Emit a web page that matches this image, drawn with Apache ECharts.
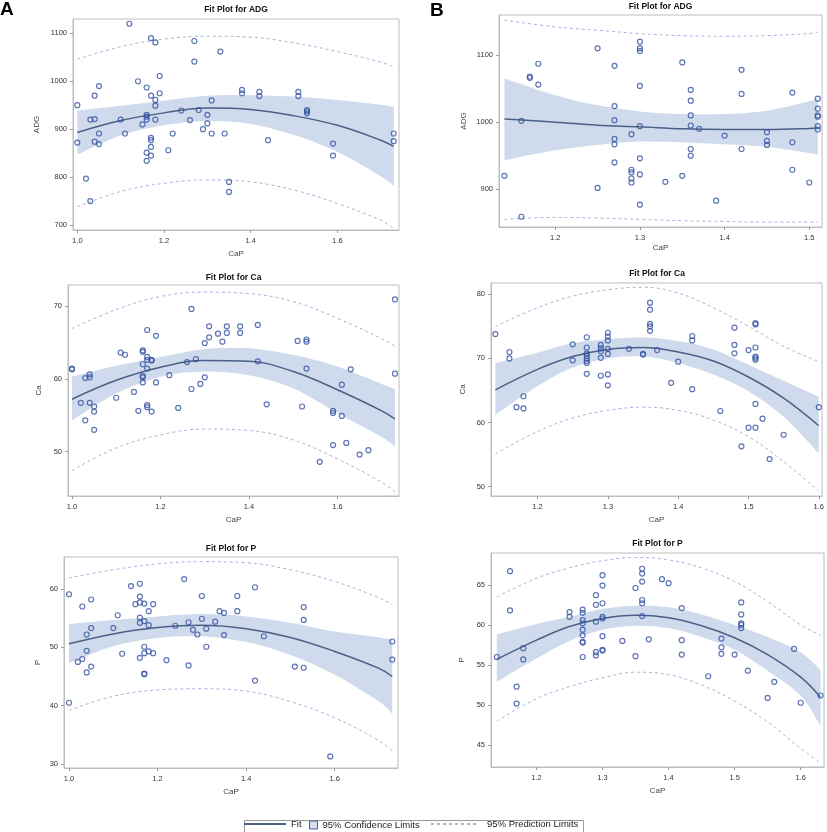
<!DOCTYPE html>
<html><head><meta charset="utf-8">
<script src="https://cdn.jsdelivr.net/npm/echarts@6/dist/echarts.min.js"></script>
<style>html,body{margin:0;padding:0;background:#fff}#c{width:827px;height:832px}</style>
</head><body><div id="c"></div>
<script>
// ---------- Observations (CaP, response) ----------
const ptsA_ADG = [[1.12,1120],[1.0,950],[1.0,872],[1.02,797],[1.03,750],[1.03,920],[1.04,921],[1.04,970],[1.04,874],[1.05,990],[1.05,891],[1.05,869],[1.10,920],[1.11,891],[1.14,1000],[1.15,910],[1.16,987],[1.16,930],[1.16,926],[1.16,920],[1.16,851],[1.16,834],[1.17,1090],[1.17,970],[1.17,882],[1.17,877],[1.17,863],[1.17,845],[1.18,1081],[1.18,961],[1.18,949],[1.18,920],[1.19,1011],[1.19,975],[1.21,856],[1.22,891],[1.24,939],[1.26,919],[1.27,1084],[1.27,1041],[1.28,940],[1.29,900],[1.30,930],[1.30,912],[1.31,960],[1.31,891],[1.33,1062],[1.34,891],[1.35,790],[1.35,769],[1.38,982],[1.38,975],[1.42,978],[1.42,969],[1.44,877],[1.51,978],[1.51,969],[1.53,940],[1.53,937],[1.53,933],[1.59,870],[1.59,845],[1.73,891],[1.73,875]];
const ptsB_ADG = [[1.14,920],[1.16,1002],[1.16,859],[1.17,1068],[1.17,1066],[1.18,1087],[1.18,1056],[1.25,1110],[1.25,902],[1.27,1084],[1.27,1024],[1.27,1003],[1.27,975],[1.27,967],[1.27,940],[1.29,982],[1.29,929],[1.29,925],[1.29,916],[1.29,910],[1.30,1120],[1.30,1110],[1.30,1106],[1.30,1054],[1.30,994],[1.30,946],[1.30,922],[1.30,877],[1.33,911],[1.35,1089],[1.35,920],[1.36,1048],[1.36,1032],[1.36,1010],[1.36,995],[1.36,960],[1.36,950],[1.37,990],[1.39,883],[1.40,980],[1.42,1078],[1.42,1042],[1.42,960],[1.45,985],[1.45,972],[1.45,966],[1.48,1044],[1.48,970],[1.48,929],[1.50,910],[1.51,1035],[1.51,1020],[1.51,1010],[1.51,1008],[1.51,994],[1.51,989]];
const ptsA_Ca = [[1.0,61.3],[1.0,61.4],[1.02,56.7],[1.03,54.3],[1.03,60.1],[1.04,60.6],[1.04,60.2],[1.04,56.7],[1.05,56.2],[1.05,55.5],[1.05,53.0],[1.10,57.4],[1.11,63.6],[1.12,63.3],[1.14,58.2],[1.15,55.6],[1.16,63.9],[1.16,63.7],[1.16,62.0],[1.16,60.4],[1.16,60.2],[1.16,59.5],[1.17,66.7],[1.17,63.0],[1.17,62.6],[1.17,61.4],[1.17,56.4],[1.17,56.1],[1.18,62.6],[1.18,62.5],[1.18,55.5],[1.19,65.9],[1.19,59.5],[1.22,60.5],[1.24,56.0],[1.26,62.3],[1.27,69.6],[1.27,58.6],[1.28,62.7],[1.29,59.3],[1.30,64.9],[1.30,60.2],[1.31,67.2],[1.31,65.7],[1.33,66.2],[1.34,65.1],[1.35,67.2],[1.35,66.3],[1.38,67.2],[1.38,66.3],[1.42,67.4],[1.42,62.4],[1.44,56.5],[1.51,65.2],[1.52,56.2],[1.53,65.4],[1.53,65.1],[1.53,61.4],[1.56,48.6],[1.59,55.6],[1.59,55.3],[1.59,50.9],[1.61,59.2],[1.61,54.9],[1.62,51.2],[1.63,61.3],[1.65,49.6],[1.67,50.2],[1.73,70.9],[1.73,60.7]];
const ptsB_Ca = [[1.14,73.8],[1.16,71.0],[1.16,70.0],[1.17,62.4],[1.18,64.1],[1.18,62.2],[1.25,72.2],[1.25,69.7],[1.27,73.3],[1.27,71.7],[1.27,70.8],[1.27,70.4],[1.27,70.0],[1.27,69.6],[1.27,69.3],[1.27,67.6],[1.29,72.1],[1.29,71.6],[1.29,71.1],[1.29,70.1],[1.29,67.3],[1.30,74.0],[1.30,73.4],[1.30,72.8],[1.30,71.5],[1.30,70.7],[1.30,67.5],[1.30,65.8],[1.33,71.5],[1.35,70.7],[1.35,70.6],[1.36,78.7],[1.36,77.6],[1.36,75.4],[1.36,75.0],[1.36,74.3],[1.37,71.3],[1.39,66.2],[1.40,69.5],[1.42,73.5],[1.42,72.8],[1.42,65.2],[1.46,61.8],[1.48,74.8],[1.48,72.1],[1.48,70.8],[1.49,56.3],[1.50,71.3],[1.50,59.2],[1.51,75.5],[1.51,75.3],[1.51,71.7],[1.51,70.3],[1.51,70.1],[1.51,69.8],[1.51,62.9],[1.51,59.2],[1.52,60.6],[1.53,54.3],[1.55,58.1],[1.60,62.4]];
const ptsA_P = [[1.0,59.1],[1.0,40.5],[1.02,47.5],[1.03,57.0],[1.03,48.0],[1.04,52.2],[1.04,49.4],[1.04,45.7],[1.05,58.2],[1.05,53.3],[1.05,46.7],[1.10,53.3],[1.11,55.5],[1.12,48.9],[1.14,60.5],[1.15,57.4],[1.16,60.9],[1.16,58.7],[1.16,57.7],[1.16,55.1],[1.16,54.2],[1.16,48.2],[1.17,57.5],[1.17,54.5],[1.17,50.1],[1.17,49.0],[1.17,45.5],[1.17,45.4],[1.18,56.2],[1.18,53.8],[1.18,49.3],[1.19,57.4],[1.19,49.0],[1.22,47.8],[1.24,53.7],[1.26,61.7],[1.27,54.3],[1.27,46.9],[1.28,53.0],[1.29,52.2],[1.30,58.8],[1.30,54.9],[1.31,53.2],[1.31,50.1],[1.33,54.4],[1.34,56.2],[1.35,55.9],[1.35,52.1],[1.38,58.8],[1.38,56.2],[1.42,60.3],[1.42,44.3],[1.44,51.9],[1.51,46.7],[1.53,56.9],[1.53,54.7],[1.53,46.5],[1.59,31.3],[1.73,51.0],[1.73,47.9]];
const ptsB_P = [[1.14,56.0],[1.16,66.7],[1.16,61.8],[1.17,52.3],[1.17,50.2],[1.18,57.1],[1.18,55.7],[1.25,61.6],[1.25,61.0],[1.27,61.9],[1.27,61.5],[1.27,60.6],[1.27,60.2],[1.27,59.4],[1.27,58.7],[1.27,57.9],[1.27,57.8],[1.27,56.0],[1.29,63.7],[1.29,62.5],[1.29,60.4],[1.29,56.6],[1.29,56.2],[1.30,66.2],[1.30,64.9],[1.30,62.7],[1.30,61.0],[1.30,60.8],[1.30,58.6],[1.30,56.9],[1.30,56.8],[1.33,58.0],[1.35,64.6],[1.35,56.1],[1.36,67.0],[1.36,66.4],[1.36,65.4],[1.36,63.1],[1.36,62.7],[1.36,61.1],[1.37,58.2],[1.39,65.7],[1.40,65.2],[1.42,62.1],[1.42,58.1],[1.42,56.3],[1.46,53.6],[1.48,58.3],[1.48,57.2],[1.48,56.4],[1.50,56.3],[1.51,62.8],[1.51,61.3],[1.51,60.2],[1.51,60.0],[1.51,59.6],[1.52,54.3],[1.55,50.9],[1.56,52.9],[1.59,57.0],[1.60,50.3],[1.63,51.2]];

// ---------- Fitted curves ----------
const cxA_ADG  = [1.0,1.1,1.2,1.3,1.4,1.5,1.6,1.7,1.73];
const fitA_ADG = [893,918,934,944,941,928,908,877,864];
const cluA_ADG = [939,949,960,970,971,968,961,951,946];
const cllA_ADG = [847,887,908,917,911,888,853,802,782];
const pluA_ADG = [1046,1072,1088,1094,1092,1080,1062,1040,1030];
const pllA_ADG = [738,770,787,794,790,773,745,710,693];

const cxB_ADG  = [1.14,1.2,1.25,1.3,1.35,1.4,1.45,1.5,1.51];
const fitB_ADG = [1004.5,1000,995.5,993,990,989,989,990.5,991.5];
const cluB_ADG = [1065,1040,1025,1016,1012,1012,1017,1031,1036];
const cllB_ADG = [943,958,966,971,970,967,963,954,951];
const pluB_ADG = [1152,1142,1137,1132,1129,1128,1129,1132,1134];
const pllB_ADG = [855,858,857,855,853,852,851,851,851];

const cxA_Ca  = [1.0,1.1,1.2,1.3,1.4,1.5,1.6,1.7,1.73];
const fitA_Ca = [57.2,59.8,61.6,62.5,62.4,61.0,58.5,55.6,54.5];
const cluA_Ca = [60.3,61.8,63.0,64.1,64.2,63.3,61.7,59.3,58.6];
const cllA_Ca = [54.3,58.0,60.3,61.0,60.5,58.7,55.3,52.0,50.7];
const pluA_Ca = [66.9,69.5,71.3,71.9,71.7,70.6,68.3,65.5,64.5];
const pllA_Ca = [47.4,50.5,52.3,53.1,52.9,51.6,49.0,45.8,44.5];

const cxB_Ca  = [1.14,1.2,1.25,1.3,1.35,1.4,1.45,1.5,1.55,1.6];
const fitB_Ca = [65.1,68.3,70.3,71.4,71.7,71.0,69.6,67.1,63.8,59.5];
const cluB_Ca = [69.3,70.9,72.4,73.0,73.3,72.7,71.4,69.0,66.5,64.0];
const cllB_Ca = [61.2,65.7,68.6,70.0,70.3,69.3,67.5,64.9,60.9,55.2];
const pluB_Ca = [75.0,77.9,79.7,80.7,81.1,80.2,77.9,75.0,71.9,69.5];
const pllB_Ca = [55.1,58.6,60.7,61.9,62.4,61.9,60.4,57.8,53.9,49.3];

const cxA_P  = [1.0,1.1,1.2,1.3,1.4,1.5,1.6,1.7,1.73];
const fitA_P = [50.6,52.3,53.4,53.8,53.2,51.7,49.3,46.4,45.0];
const cluA_P = [54.0,54.7,55.3,55.7,55.3,54.2,52.7,51.7,51.3];
const cllA_P = [47.3,50.2,51.6,51.9,50.9,48.7,45.3,40.7,38.6];
const pluA_P = [61.9,63.3,64.3,64.7,64.5,63.3,61.3,58.5,57.3];
const pllA_P = [39.2,41.6,42.7,42.9,42.5,40.7,37.9,34.0,32.2];

const cxB_P  = [1.14,1.2,1.25,1.3,1.35,1.4,1.45,1.5,1.55,1.6,1.63];
const fitB_P = [55.7,58.1,59.8,60.8,61.2,60.9,59.9,58.4,56.3,53.5,51.0];
const cluB_P = [58.8,60.1,61.0,62.0,62.4,62.2,61.3,60.0,58.5,56.6,54.4];
const cllB_P = [52.9,55.8,58.0,59.4,59.9,59.6,58.5,56.9,54.3,51.2,47.4];
const pluB_P = [63.5,65.8,67.1,68.0,68.4,68.1,67.1,65.4,62.9,60.0,58.7];
const pllB_P = [48.0,50.8,52.3,53.4,54.1,53.8,52.5,50.5,47.9,44.6,42.8];

// ---------- Tick labels ----------
const ticksX_A    = [1.0,1.2,1.4,1.6];
const ticksX_B1   = [1.2,1.3,1.4,1.5];
const ticksX_B2   = [1.2,1.3,1.4,1.5,1.6];
const ticksY_A_ADG = [700,800,900,1000,1100];
const ticksY_B_ADG = [900,1000,1100];
const ticksY_A_Ca  = [50,60,70];
const ticksY_B_Ca  = [50,60,70,80];
const ticksY_A_P   = [30,40,50,60];
const ticksY_B_P   = [45,50,55,60,65];

const titles = ['Fit Plot for ADG','Fit Plot for ADG','Fit Plot for Ca','Fit Plot for Ca','Fit Plot for P','Fit Plot for P'];
const yNames = ['ADG','ADG','Ca','Ca','P','P'];

// ---------- Layout ----------
const FONT = '"Liberation Sans", Arial, Helvetica, sans-serif';
const C_PT = '#3553a3', C_FIT = '#4b5f87', C_BAND = '#cfdbec', C_PI = '#a9b3d9', C_FRAME = '#bdbdbd';

const panels = [
  {pts:ptsA_ADG, cx:cxA_ADG, fit:fitA_ADG, clu:cluA_ADG, cll:cllA_ADG, plu:pluA_ADG, pll:pllA_ADG, tx:ticksX_A, ty:ticksY_A_ADG, xd:1, yd:0,
   grid:{left:73, top:19, width:326, height:211}, xr:[0.99,1.7423], yr:[689.6,1129.9], titleTop:5, yGap:32, xGap:20},
  {pts:ptsB_ADG, cx:cxB_ADG, fit:fitB_ADG, clu:cluB_ADG, cll:cllB_ADG, plu:pluB_ADG, pll:pllB_ADG, tx:ticksX_B1, ty:ticksY_B_ADG, xd:1, yd:0,
   grid:{left:499, top:15, width:323, height:212}, xr:[1.1336,1.515], yr:[843.7,1159.7], titleTop:2, yGap:31, xGap:17},
  {pts:ptsA_Ca, cx:cxA_Ca, fit:fitA_Ca, clu:cluA_Ca, cll:cllA_Ca, plu:pluA_Ca, pll:pllA_Ca, tx:ticksX_A, ty:ticksY_A_Ca, xd:1, yd:0,
   grid:{left:68, top:285, width:331, height:211}, xr:[0.991,1.7391], yr:[43.91,72.88], titleTop:273, yGap:25, xGap:20},
  {pts:ptsB_Ca, cx:cxB_Ca, fit:fitB_Ca, clu:cluB_Ca, cll:cllB_Ca, plu:pluB_Ca, pll:pllB_Ca, tx:ticksX_B2, ty:ticksY_B_Ca, xd:1, yd:0,
   grid:{left:491, top:283, width:332, height:213}, xr:[1.1338,1.6047], yr:[48.55,81.76], titleTop:269, yGap:24, xGap:20},
  {pts:ptsA_P, cx:cxA_P, fit:fitA_P, clu:cluA_P, cll:cllA_P, plu:pluA_P, pll:pllA_P, tx:ticksX_A, ty:ticksY_A_P, xd:1, yd:0,
   grid:{left:64, top:557, width:334, height:211}, xr:[0.9887,1.7429], yr:[29.31,65.49], titleTop:544, yGap:22, xGap:20},
  {pts:ptsB_P, cx:cxB_P, fit:fitB_P, clu:cluB_P, cll:cllB_P, plu:pluB_P, pll:pllB_P, tx:ticksX_B2, ty:ticksY_B_P, xd:1, yd:0,
   grid:{left:491, top:553, width:333, height:214}, xr:[1.1312,1.6353], yr:[42.29,68.96], titleTop:539, yGap:25, xGap:20}
];

function smoothSeg(p) {
  let d = '';
  for (let i = 0; i < p.length - 1; i++) {
    const p0 = p[i-1] || p[i], p1 = p[i], p2 = p[i+1], p3 = p[i+2] || p[i+1];
    const c1 = [p1[0] + (p2[0]-p0[0])/6, p1[1] + (p2[1]-p0[1])/6];
    const c2 = [p2[0] - (p3[0]-p1[0])/6, p2[1] - (p3[1]-p1[1])/6];
    d += ' C' + c1[0] + ' ' + c1[1] + ' ' + c2[0] + ' ' + c2[1] + ' ' + p2[0] + ' ' + p2[1];
  }
  return d;
}

const grids = [], xAxes = [], yAxes = [], series = [], titleList = [];
panels.forEach((p, i) => {
  grids.push(Object.assign({show:true, borderColor:C_FRAME, borderWidth:1, backgroundColor:'#fff'}, p.grid));
  const axisCommon = {
    type:'value', splitLine:{show:false},
    axisLine:{show:true, onZero:false, lineStyle:{color:C_FRAME, width:1}},
    nameTextStyle:{fontFamily:FONT, fontSize:8, color:'#444'},
    nameLocation:'middle'
  };
  xAxes.push(Object.assign({}, axisCommon, {
    gridIndex:i, min:p.xr[0], max:p.xr[1], name:'CaP', nameGap:p.xGap,
    axisTick:{show:true, customValues:p.tx, length:3, lineStyle:{color:'#999'}},
    axisLabel:{customValues:p.tx, formatter:v => Number(v).toFixed(p.xd), fontFamily:FONT, fontSize:7.5, color:'#333', margin:7}
  }));
  yAxes.push(Object.assign({}, axisCommon, {
    gridIndex:i, min:p.yr[0], max:p.yr[1], name:yNames[i], nameGap:p.yGap, nameRotate:90,
    axisTick:{show:true, customValues:p.ty, length:3, lineStyle:{color:'#999'}},
    axisLabel:{customValues:p.ty, formatter:v => Number(v).toFixed(p.yd), fontFamily:FONT, fontSize:7.5, color:'#333', margin:6}
  }));
  titleList.push({text:titles[i], left:p.grid.left + p.grid.width/2, textAlign:'center', top:p.titleTop, padding:0,
    textStyle:{fontFamily:FONT, fontSize:8.5, fontWeight:'bold', color:'#111'}});

  const band = p.cx.map((x, k) => [x, p.cll[k], p.clu[k]]);
  series.push({
    type:'custom', name:'95% Confidence Limits', xAxisIndex:i, yAxisIndex:i, data:band, clip:true, silent:true, z:1,
    encode:{x:0, y:[1,2]}, itemStyle:{color:C_BAND},
    renderItem:(params, api) => {
      if (params.dataIndex !== 0) return null;
      const up = band.map(d => api.coord([d[0], d[2]]));
      const dn = band.map(d => api.coord([d[0], d[1]])).reverse();
      const d = 'M' + up[0][0] + ' ' + up[0][1] + smoothSeg(up) + ' L' + dn[0][0] + ' ' + dn[0][1] + smoothSeg(dn) + ' Z';
      return {type:'path', shape:{pathData:d}, style:{fill:C_BAND, stroke:null}};
    }
  });
  const pi = {type:'line', name:'95% Prediction Limits', xAxisIndex:i, yAxisIndex:i, symbol:'none', smooth:0.4, silent:true, z:2,
    lineStyle:{color:C_PI, width:1, type:[3,3]}, itemStyle:{color:C_PI}};
  series.push(Object.assign({}, pi, {data:p.cx.map((x,k)=>[x,p.plu[k]])}));
  series.push(Object.assign({}, pi, {data:p.cx.map((x,k)=>[x,p.pll[k]])}));
  series.push({type:'line', name:'Fit', xAxisIndex:i, yAxisIndex:i, symbol:'none', smooth:0.4, silent:true, z:3,
    lineStyle:{color:C_FIT, width:1.5}, itemStyle:{color:C_FIT}, data:p.cx.map((x,k)=>[x,p.fit[k]])});
  series.push({type:'scatter', name:'obs', xAxisIndex:i, yAxisIndex:i, symbol:'circle', symbolSize:5, silent:true, z:4,
    itemStyle:{color:'rgba(255,255,255,0)', borderColor:C_PT, borderWidth:1.2}, data:p.pts});
});

titleList.push({text:'A', left:0, top:0, padding:0, textStyle:{fontFamily:FONT, fontSize:19, fontWeight:'bold', color:'#000'}});
titleList.push({text:'B', left:430, top:1, padding:0, textStyle:{fontFamily:FONT, fontSize:19, fontWeight:'bold', color:'#000'}});

const legTxt = {fontFamily:FONT, fontSize:9.5, color:'#222'};
const hiddenSym = {opacity:0, borderWidth:0};
const option = {
  animation:false,
  backgroundColor:'#fff',
  title:titleList,
  grid:grids, xAxis:xAxes, yAxis:yAxes, series:series,
  legend:[
    {data:[{name:'Fit', itemStyle:hiddenSym}], left:243, top:819, itemWidth:42, itemHeight:10, padding:0, selectedMode:false, textStyle:legTxt},
    {data:[{name:'95% Confidence Limits', icon:'rect', itemStyle:{color:'#d3deee', borderColor:'#4b5f8c', borderWidth:1}}],
     left:309, top:820, itemWidth:8, itemHeight:8, padding:0, selectedMode:false, textStyle:legTxt},
    {data:[{name:'95% Prediction Limits', itemStyle:hiddenSym}], left:430, top:819, itemWidth:47, itemHeight:10, padding:0, selectedMode:false,
     textStyle:Object.assign({padding:[0,0,0,4]}, legTxt)}
  ],
  graphic:[{type:'rect', left:242, top:818, shape:{width:339, height:13}, style:{fill:'none', stroke:'#9a9a9a', lineWidth:1}, z:-1, silent:true}]
};
const chart = echarts.init(document.getElementById('c'), null, {renderer:'canvas'});
chart.setOption(option);
</script></body></html>
